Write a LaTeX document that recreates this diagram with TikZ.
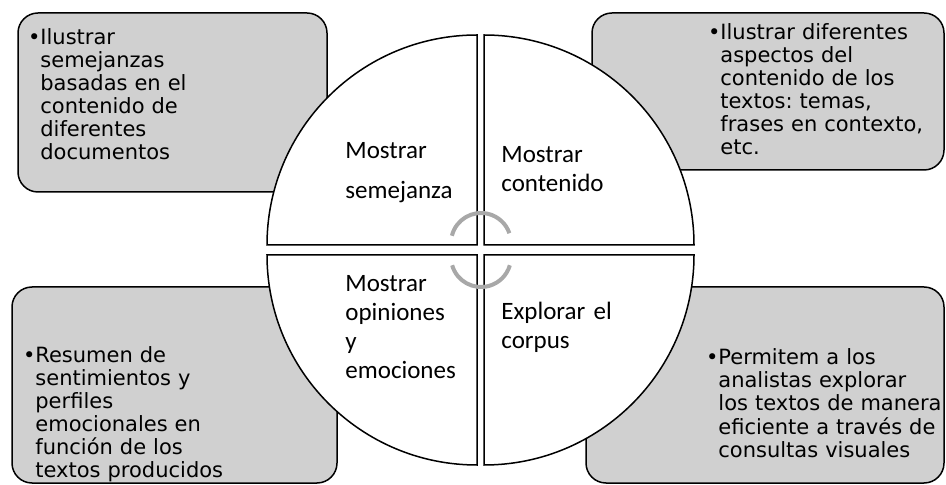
\documentclass[tikz,border=0pt]{standalone}
\usepackage{fontspec}
\newfontfamily\boxfont{DejaVu Sans}
\newfontfamily\quadfont{Carlito}
\definecolor{boxgray}{RGB}{208,208,208}
\definecolor{arcgray}{RGB}{168,168,168}
\frenchspacing

\begin{document}
\begin{tikzpicture}[x=0.5pt,y=-0.5pt,
   infobox/.style={draw=black,fill=boxgray,line width=0.75pt,rounded corners=10pt},
   quadrant/.style={draw=black,fill=white,line width=0.75pt},
   boxtext/.style={anchor=base west,inner sep=0pt,text width=140pt,align=left,
      font=\boxfont\fontsize{10.5}{11.5}\selectfont},
   quadtext/.style={anchor=base west,inner sep=0pt,text width=70pt,align=left,
      font=\quadfont\fontsize{12.5}{14.5}\selectfont},
   turn/.style={draw=arcgray,line width=2pt}]

   \useasboundingbox (0,0) rectangle (946,485);

   % grey boxes behind the circle
   \draw [infobox] (18,13) rectangle (327,192);
   \draw [infobox] (592,13) rectangle (944,170);
   \draw [infobox] (12,287) rectangle (337,483);
   \draw [infobox] (586,287) rectangle (944,483);

   \node (SemejanzaText) at (40,45) [boxtext] {\llap{•}Ilustrar\\semejanzas\\basadas en el\\contenido de\\diferentes\\documentos};
   \node (ContenidoText) at (720,40) [boxtext] {\llap{•}Ilustrar diferentes\\aspectos del\\contenido de los\\textos: temas,\\frases en contexto,\\etc.};
   \node (OpinionesText) at (35,363) [boxtext] {\llap{•}Resumen de\\sentimientos y\\perfiles\\emocionales en\\función de los\\textos producidos};
   \node (CorpusText) at (718,365) [boxtext] {\llap{•}Permitem a los\\analistas explorar\\los textos de manera\\eficiente a través de\\consultas visuales};

   % the four quarters of the circle
   \draw [quadrant] (477,245) -- ++(-210,0) arc[start angle=180,end angle=270,radius=210] -- cycle;
   \draw [quadrant] (484,245) -- ++(0,-210) arc[start angle=270,end angle=360,radius=210] -- cycle;
   \draw [quadrant] (477,255) -- ++(0,210) arc[start angle=90,end angle=180,radius=210] -- cycle;
   \draw [quadrant] (484,255) -- ++(210,0) arc[start angle=0,end angle=90,radius=210] -- cycle;

   \node (Semejanza) at (345,159) [quadtext] {Mostrar\\[5.5pt]semejanza};
   \node (Contenido) at (501,163) [quadtext] {Mostrar\\contenido};
   \node (Opiniones) at (345,292) [quadtext] {Mostrar\\opiniones\\y\\emociones};
   \node (Corpus) at (501,320) [quadtext] {Explorar el\\corpus};

   % grey turning arcs in the middle
   \draw [turn] (481,243) ++(194:30) arc[start angle=194,end angle=341,radius=30];
   \draw [turn] (481,257) ++(164:30) arc[start angle=164,end angle=16,radius=30];

\end{tikzpicture}
\end{document}
